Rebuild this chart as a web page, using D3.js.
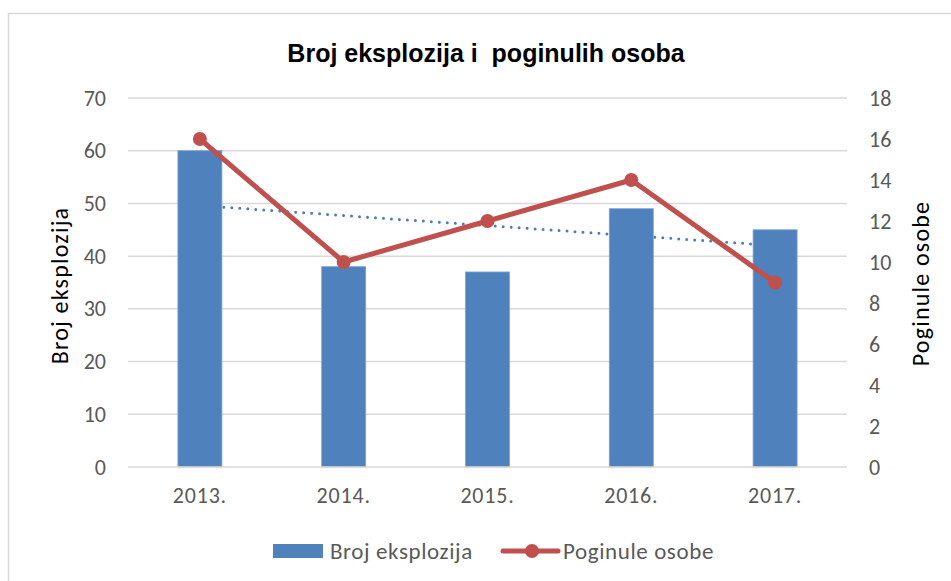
<!DOCTYPE html>
<html>
<head>
<meta charset="utf-8">
<script src="https://cdn.jsdelivr.net/npm/d3@7"></script>
<style>
  html, body { margin: 0; padding: 0; background: #fff; }
  svg { display: block; }
</style>
</head>
<body>
<svg id="chart" width="951" height="581"></svg>
<script>
const categories = ["2013.", "2014.", "2015.", "2016.", "2017."];
const explosions = [60, 38, 37, 49, 45];
const deaths = [16, 10, 12, 14, 9];
const leftTicks = [0, 10, 20, 30, 40, 50, 60, 70];
const rightTicks = [0, 2, 4, 6, 8, 10, 12, 14, 16, 18];

const title = "Broj eksplozija i  poginulih osoba";
const leftTitle = "Broj eksplozija";
const rightTitle = "Poginule osobe";

const W = 951, H = 581;
const plot = { left: 128, right: 847, top: 98, bottom: 467 };
const tickFont = "Carlito, 'Open Sans', 'Noto Sans', sans-serif";
const textColor = "#595959";
const barColor = "#4F81BD";
const lineColor = "#C0504D";
const gridColor = "#D9D9D9";

const svg = d3.select("#chart");

// chart border
svg.append("rect")
  .attr("x", 8.5).attr("y", 13.5)
  .attr("width", W + 20).attr("height", H + 20)
  .attr("fill", "#fff").attr("stroke", gridColor).attr("stroke-width", 1.5);

const x = d3.scaleBand().domain(categories).range([plot.left, plot.right]).paddingInner(0).paddingOuter(0);
const yL = d3.scaleLinear().domain([0, 70]).range([plot.bottom, plot.top]);
const yR = d3.scaleLinear().domain([0, 18]).range([plot.bottom, plot.top]);
const barW = x.bandwidth() * 0.306;
const cx = d => x(d) + x.bandwidth() / 2;

// gridlines
svg.append("g").selectAll("line").data(leftTicks.filter(t => t > 0)).join("line")
  .attr("x1", plot.left).attr("x2", plot.right)
  .attr("y1", d => yL(d)).attr("y2", d => yL(d))
  .attr("stroke", gridColor).attr("stroke-width", 1.5);

// left axis labels
const axL = d3.axisLeft(yL).tickValues(leftTicks).tickSize(0).tickPadding(22);
const gL = svg.append("g").attr("transform", `translate(${plot.left},0)`).call(axL);
gL.select(".domain").remove();
gL.selectAll("text").attr("font-family", tickFont).attr("font-size", 22).attr("fill", textColor);

// right axis labels
const axR = d3.axisRight(yR).tickValues(rightTicks).tickSize(0).tickPadding(22);
const gR = svg.append("g").attr("transform", `translate(${plot.right},0)`).call(axR);
gR.select(".domain").remove();
gR.selectAll("text").attr("font-family", tickFont).attr("font-size", 22).attr("fill", textColor);

// linear trendline of explosions (drawn behind bars)
const n = explosions.length;
const xs = explosions.map((_, i) => i + 1);
const mx = d3.mean(xs), my = d3.mean(explosions);
const slope = d3.sum(xs.map((xi, i) => (xi - mx) * (explosions[i] - my))) / d3.sum(xs.map(xi => (xi - mx) ** 2));
const icpt = my - slope * mx;
const trend = [
  { c: categories[0], v: icpt + slope * 1 },
  { c: categories[n - 1], v: icpt + slope * n }
];
svg.append("path")
  .attr("d", d3.line().x(d => cx(d.c)).y(d => yL(d.v))(trend))
  .attr("fill", "none").attr("stroke", "#4A7EBB").attr("stroke-width", 3)
  .attr("stroke-linecap", "round").attr("stroke-dasharray", "0 8");

// bars
svg.append("g").selectAll("rect").data(categories).join("rect")
  .attr("x", d => cx(d) - barW / 2)
  .attr("width", barW)
  .attr("y", (d, i) => yL(explosions[i]))
  .attr("height", (d, i) => yL(0) - yL(explosions[i]))
  .attr("fill", barColor).attr("stroke", "#7EA3D2").attr("stroke-width", 0.8);

// x axis line
svg.append("line")
  .attr("x1", plot.left).attr("x2", plot.right)
  .attr("y1", yL(0)).attr("y2", yL(0))
  .attr("stroke", gridColor).attr("stroke-width", 1.5);

// x labels
const axB = d3.axisBottom(x).tickSize(0).tickPadding(20);
const gB = svg.append("g").attr("transform", `translate(0,${plot.bottom})`).call(axB);
gB.select(".domain").remove();
gB.selectAll("text").attr("font-family", tickFont).attr("font-size", 22)
  .attr("letter-spacing", 0.8).attr("fill", textColor);

// deaths line
svg.append("path")
  .attr("d", d3.line().x((d, i) => cx(categories[i])).y(d => yR(d))(deaths))
  .attr("fill", "none").attr("stroke", lineColor).attr("stroke-width", 5)
  .attr("stroke-linejoin", "round");
svg.append("g").selectAll("circle").data(deaths).join("circle")
  .attr("cx", (d, i) => cx(categories[i])).attr("cy", d => yR(d))
  .attr("r", 7).attr("fill", lineColor);

// title
svg.append("text")
  .attr("x", 486).attr("y", 62).attr("text-anchor", "middle")
  .attr("font-family", "'Liberation Sans', Arial, sans-serif")
  .attr("font-weight", "bold").attr("font-size", 25).attr("fill", "#000")
  .style("white-space", "pre").attr("xml:space", "preserve")
  .text(title);

// axis titles
svg.append("text")
  .attr("transform", `translate(68,${(plot.top + plot.bottom) / 2 + 3}) rotate(-90)`)
  .attr("text-anchor", "middle")
  .attr("font-family", tickFont).attr("font-size", 24).attr("letter-spacing", 1.2).attr("fill", "#000")
  .text(leftTitle);
svg.append("text")
  .attr("transform", `translate(929,${(plot.top + plot.bottom) / 2 + 1}) rotate(-90)`)
  .attr("text-anchor", "middle")
  .attr("font-family", tickFont).attr("font-size", 24).attr("letter-spacing", 1.2).attr("fill", "#000")
  .text(rightTitle);

// legend
const lg = svg.append("g");
lg.append("rect").attr("x", 273).attr("y", 544).attr("width", 50).attr("height", 14).attr("fill", barColor);
lg.append("text").attr("x", 330).attr("y", 559)
  .attr("font-family", tickFont).attr("font-size", 23).attr("letter-spacing", 0.6).attr("fill", textColor).text(leftTitle);
lg.append("line").attr("x1", 503).attr("x2", 558).attr("y1", 551).attr("y2", 551)
  .attr("stroke", lineColor).attr("stroke-width", 5).attr("stroke-linecap", "round");
lg.append("circle").attr("cx", 532).attr("cy", 551).attr("r", 7).attr("fill", lineColor);
lg.append("text").attr("x", 563).attr("y", 559)
  .attr("font-family", tickFont).attr("font-size", 23).attr("letter-spacing", 0.6).attr("fill", textColor).text(rightTitle);
</script>
</body>
</html>
